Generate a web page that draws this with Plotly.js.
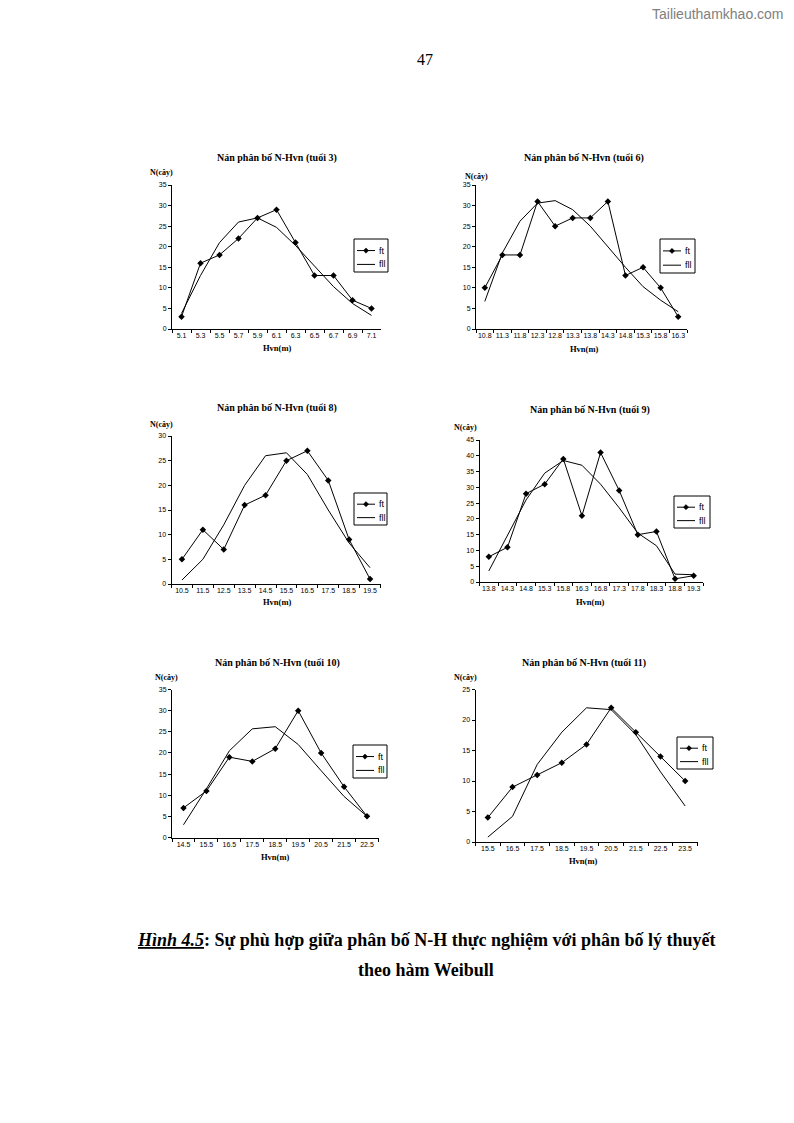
<!DOCTYPE html>
<html>
<head>
<meta charset="utf-8">
<script src="https://cdn.plot.ly/plotly-3.0.1.min.js"></script>
<style>html,body{margin:0;padding:0;background:#fff;}#chart{width:794px;height:1123px;}</style>
</head>
<body>
<div id="chart"></div>
<script>
// ---- data ----
const titles = [
  "Nán phân bố N-Hvn (tuổi 3)",
  "Nán phân bố N-Hvn (tuổi 6)",
  "Nán phân bố N-Hvn (tuổi 8)",
  "Nán phân bố N-Hvn (tuổi 9)",
  "Nán phân bố N-Hvn (tuổi 10)",
  "Nán phân bố N-Hvn (tuổi 11)"
];
const hvn3  = ["5.1","5.3","5.5","5.7","5.9","6.1","6.3","6.5","6.7","6.9","7.1"];
const ft3   = [3, 16, 18, 22, 27, 29, 21, 13, 13, 7, 5];
const fll3  = [3.8, 13, 21, 26, 27, 24.7, 20.3, 15.2, 10.3, 6.2, 3.3];

const hvn6  = ["10.8","11.3","11.8","12.3","12.8","13.3","13.8","14.3","14.8","15.3","15.8","16.3"];
const ft6   = [10, 18, 18, 31, 25, 27, 27, 31, 13, 15, 10, 3];
const fll6  = [6.7, 18.5, 26.2, 30.6, 31.2, 29, 25, 20, 15, 10.3, 7, 4.2];

const hvn8  = ["10.5","11.5","12.5","13.5","14.5","15.5","16.5","17.5","18.5","19.5"];
const ft8   = [5, 11, 7, 16, 18, 25, 27, 21, 9, 1];
const fll8  = [0.8, 5, 12, 20, 26, 26.6, 22.2, 15, 8.3, 3.3];

const hvn9  = ["13.8","14.3","14.8","15.3","15.8","16.3","16.8","17.3","17.8","18.3","18.8","19.3"];
const ft9   = [8, 11, 28, 31, 39, 21, 41, 29, 15, 16, 1, 2];
const fll9  = [3.5, 14.5, 26, 34.5, 38.5, 37, 31, 23.5, 15.5, 11.5, 2.5, 2.3];

const hvn10 = ["14.5","15.5","16.5","17.5","18.5","19.5","20.5","21.5","22.5"];
const ft10  = [7, 11, 19, 18, 21, 30, 20, 12, 5];
const fll10 = [3, 11.5, 20.5, 25.7, 26.2, 22, 15.8, 9.7, 5];

const hvn11 = ["15.5","16.5","17.5","18.5","19.5","20.5","21.5","22.5","23.5"];
const ft11  = [4, 9, 11, 13, 16, 22, 18, 14, 10];
const fll11 = [0.8, 4.2, 12.7, 18, 22, 21.7, 17.6, 11.5, 5.9];

const yMax = [35, 35, 30, 45, 35, 25];
const seriesNames = ["ft", "fll"];
const yLabel = "N(cây)";
const xLabel = "Hvn(m)";
const pageNumber = "47";
const watermark = "Tailieuthamkhao.com";
const caption1 = "<b><i><u>Hình 4.5</u></i>: Sự phù hợp giữa phân bố N-H thực nghiệm với phân bố lý thuyết</b>";
const caption2 = "<b>theo hàm Weibull</b>";

const cats = [hvn3, hvn6, hvn8, hvn9, hvn10, hvn11];
const fts  = [ft3, ft6, ft8, ft9, ft10, ft11];
const flls = [fll3, fll6, fll8, fll9, fll10, fll11];

// ---- layout geometry (page pixels) ----
const W = 794, H = 1123;
const px = v => v / W;
const py = v => 1 - v / H;
const boxes = [ // [left, right, top, bottom]
  [172, 381, 185, 329],
  [476, 687, 185, 329],
  [171.5, 380.5, 436, 584],
  [479.5, 703, 440, 582],
  [172, 378.5, 689.5, 837.5],
  [475.5, 697.5, 689.5, 842]
];
const titlePos = [[277,158],[584,158],[277,408],[590,410],[277,663],[584,663]];
const yLabPos  = [[161,173],[476,176],[161,424],[466,428],[166,677],[465,677]];
const xLabPos  = [[277,348],[584,349],[277,602],[590,602],[275,857],[583,861]];
const legBox   = [ // [left, top, width, height]
  [354, 239, 34, 33],
  [660, 239, 35, 34],
  [354, 493, 33, 32],
  [674, 496, 36, 32],
  [353, 745, 34, 33],
  [677, 737, 36, 32]
];

const serif = "Liberation Serif, Times New Roman, serif";
const sans = "Liberation Sans, Arial, sans-serif";

const data = [];
const layout = {
  width: W, height: H,
  margin: {l:0, r:0, t:0, b:0},
  paper_bgcolor: "#fff", plot_bgcolor: "rgba(0,0,0,0)",
  showlegend: false,
  annotations: [],
  shapes: [],
  font: {family: sans, color: "#000"}
};

function legendEntries(i) {
  const [L, T, w, h] = legBox[i];
  layout.shapes.push({type: "rect", xref: "paper", yref: "paper",
    x0: px(L), x1: px(L + w), y0: py(T), y1: py(T + h),
    line: {color: "#000", width: 1}, fillcolor: "#fff", layer: "above"});
  const rows = [T + h * 0.35, T + h * 0.77];
  for (let k = 0; k < 2; k++) {
    layout.shapes.push({type: "line", xref: "paper", yref: "paper",
      x0: px(L + 3), x1: px(L + 21), y0: py(rows[k]), y1: py(rows[k]),
      line: {color: "#000", width: 1}, layer: "above"});
    layout.annotations.push({text: seriesNames[k], xref: "paper", yref: "paper",
      x: px(L + 23), y: py(rows[k]), xanchor: "left", yanchor: "middle",
      showarrow: false, font: {family: sans, size: 9, color: "#000"}});
  }
  const cx = L + 12, cy = rows[0], r = 2.6;
  layout.shapes.push({type: "path", xref: "paper", yref: "paper",
    path: `M ${px(cx)},${py(cy - r)} L ${px(cx + r)},${py(cy)} L ${px(cx)},${py(cy + r)} L ${px(cx - r)},${py(cy)} Z`,
    fillcolor: "#000", line: {color: "#000", width: 0.5}, layer: "above"});
}

for (let i = 0; i < 6; i++) {
  const sfx = i === 0 ? "" : String(i + 1);
  const xa = "x" + sfx, ya = "y" + sfx;
  data.push({
    x: cats[i], y: fts[i], xaxis: xa, yaxis: ya, name: seriesNames[0],
    type: "scatter", mode: "lines+markers",
    line: {color: "#000", width: 1},
    marker: {symbol: "diamond", size: 5, color: "#000"}
  });
  data.push({
    x: cats[i], y: flls[i], xaxis: xa, yaxis: ya, name: seriesNames[1],
    type: "scatter", mode: "lines",
    line: {color: "#000", width: 1}
  });
  const b = boxes[i];
  layout["xaxis" + sfx] = {
    domain: [px(b[0]), px(b[1])], anchor: ya, type: "category",
    range: [-0.5, cats[i].length - 0.5], tickson: "boundaries", tickangle: 0,
    showline: true, linecolor: "#000", linewidth: 1,
    ticks: "outside", ticklen: 3, tickcolor: "#000", tickwidth: 1,
    showgrid: false, zeroline: false, fixedrange: true,
    tickfont: {family: sans, size: 7, color: "#000"}
  };
  layout["yaxis" + sfx] = {
    domain: [py(b[3]), py(b[2])], anchor: xa,
    range: [0, yMax[i]], dtick: 5, tick0: 0,
    showline: true, linecolor: "#000", linewidth: 1,
    ticks: "outside", ticklen: 3, tickcolor: "#000", tickwidth: 1,
    showgrid: false, zeroline: false, fixedrange: true,
    tickfont: {family: sans, size: 7, color: "#000"}
  };
  legendEntries(i);
  layout.annotations.push({
    text: "<b>" + titles[i] + "</b>", xref: "paper", yref: "paper",
    x: px(titlePos[i][0]), y: py(titlePos[i][1]), xanchor: "center", yanchor: "middle",
    showarrow: false, font: {family: serif, size: 10, color: "#000"}
  });
  layout.annotations.push({
    text: "<b>" + yLabel + "</b>", xref: "paper", yref: "paper",
    x: px(yLabPos[i][0]), y: py(yLabPos[i][1]), xanchor: "center", yanchor: "middle",
    showarrow: false, font: {family: serif, size: 8, color: "#000"}
  });
  layout.annotations.push({
    text: "<b>" + xLabel + "</b>", xref: "paper", yref: "paper",
    x: px(xLabPos[i][0]), y: py(xLabPos[i][1]), xanchor: "center", yanchor: "middle",
    showarrow: false, font: {family: serif, size: 8.5, color: "#000"}
  });
}

layout.annotations.push({
  text: pageNumber, xref: "paper", yref: "paper", x: px(425), y: py(60),
  xanchor: "center", yanchor: "middle", showarrow: false,
  font: {family: serif, size: 16, color: "#000"}
});
layout.annotations.push({
  text: watermark, xref: "paper", yref: "paper", x: px(786), y: py(14),
  xanchor: "right", yanchor: "middle", showarrow: false,
  font: {family: sans, size: 14, color: "#808080"}
});
layout.annotations.push({
  text: caption1, xref: "paper", yref: "paper", x: px(426), y: py(940),
  xanchor: "center", yanchor: "middle", showarrow: false,
  font: {family: serif, size: 18, color: "#000"}
});
layout.annotations.push({
  text: caption2, xref: "paper", yref: "paper", x: px(426), y: py(970),
  xanchor: "center", yanchor: "middle", showarrow: false,
  font: {family: serif, size: 18, color: "#000"}
});

Plotly.newPlot("chart", data, layout, {staticPlot: true, displayModeBar: false});
</script>
</body>
</html>
